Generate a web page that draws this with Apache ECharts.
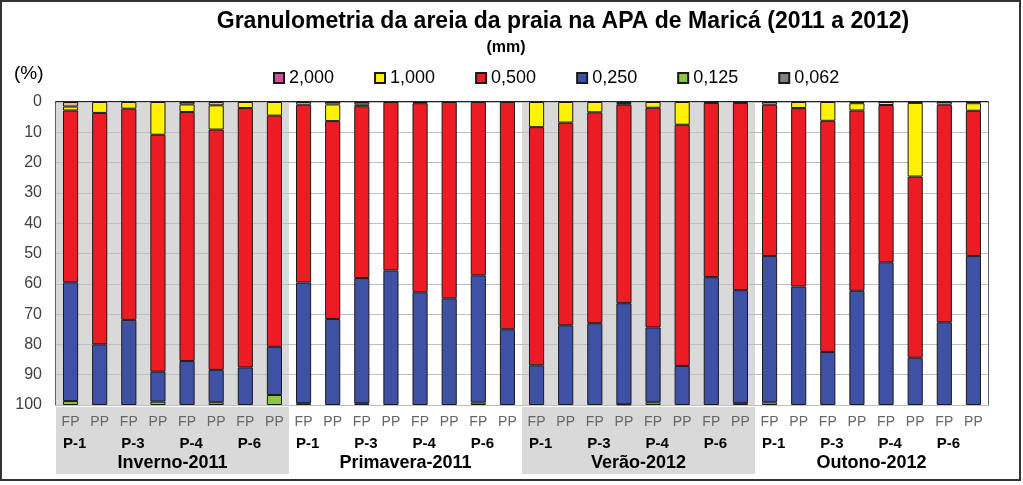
<!DOCTYPE html>
<html>
<head>
<meta charset="utf-8">
<script src="https://cdn.jsdelivr.net/npm/echarts@6/dist/echarts.min.js"></script>
<style>
  html, body { margin: 0; padding: 0; background: #fff; }
  #chart { width: 1023px; height: 485px; }
</style>
</head>
<body>
<div id="chart"></div>
<script>
// categories
const seasons = ['Inverno-2011', 'Primavera-2011', 'Verão-2012', 'Outono-2012'];
const sites = ['P-1', 'P-3', 'P-4', 'P-6'];
const sides = ['FP', 'PP'];

// sediment fractions (%), one value per bar, stacked from the top
const s2000 = [1.5, 0, 0, 0, 0.8, 1.1, 0, 0,   0, 0.8, 0.8, 0, 0.4, 0, 0, 0,   0, 0, 0, 0.3, 0, 0, 0.3, 0.3,   0.9, 0, 0, 0.4, 0, 0.3, 0.9, 0.4];
const s1000 = [1.3, 3.6, 2.2, 10.8, 2.5, 8.0, 2.0, 4.5,   0.9, 5.5, 0.6, 0, 0, 0, 0, 0,   8.3, 6.8, 3.4, 0.6, 1.9, 7.5, 0, 0,   0, 2.0, 6.2, 2.4, 1.0, 24.3, 0, 2.5];
const s0500 = [56.7, 76.4, 69.7, 78.2, 82.2, 79.3, 85.6, 76.3,   58.7, 65.3, 56.7, 55.6, 62.4, 64.8, 57.2, 75.0,   78.6, 66.9, 69.6, 65.5, 72.5, 79.6, 57.5, 61.8,   49.9, 58.9, 76.3, 59.5, 51.9, 59.8, 71.8, 47.9];
const s0250 = [39.2, 20.0, 28.1, 9.9, 14.5, 10.7, 12.4, 15.9,   39.8, 28.4, 41.3, 44.4, 37.2, 35.2, 42.0, 25.0,   13.1, 26.3, 27.0, 33.4, 24.7, 12.9, 42.2, 37.3,   48.3, 39.1, 17.5, 37.7, 47.1, 15.6, 27.3, 49.2];
const s0125 = [1.3, 0, 0, 1.1, 0, 0.9, 0, 3.3,   0.6, 0, 0.6, 0, 0, 0, 0.8, 0,   0, 0, 0, 0.2, 0.9, 0, 0, 0.6,   0.9, 0, 0, 0, 0, 0, 0, 0];
const s0062 = [0, 0, 0, 0, 0, 0, 0, 0,   0, 0, 0, 0, 0, 0, 0, 0,   0, 0, 0, 0, 0, 0, 0, 0,   0, 0, 0, 0, 0, 0, 0, 0];

const sideLabels = [];
const siteLabels = [];
seasons.forEach(function () {
    sites.forEach(function (site) {
        sides.forEach(function (side) {
            sideLabels.push(side);
            siteLabels.push(side === 'FP' ? site : '');
        });
    });
});

const narrow = "'Liberation Sans Narrow', 'Liberation Sans', Arial, sans-serif";
const sans = "'Liberation Sans', Arial, sans-serif";
// season bands: grey, white, grey, white (+ trailing partial band kept white)
const bandColors = ['#D9D9D9', '#FFFFFF', '#D9D9D9', '#FFFFFF', '#FFFFFF'];

function clean(arr) {
    return arr.map(function (v) { return v > 0 ? v : '-'; });
}

function makeSeries(name, data, color) {
    return {
        name: name,
        type: 'bar',
        stack: 'total',
        barWidth: '52%',
        z: 3,
        data: clean(data),
        itemStyle: {
            color: color,
            borderColor: '#1a1a1a',
            borderWidth: 1
        },
        emphasis: { disabled: true }
    };
}

const chart = echarts.init(document.getElementById('chart'), null, { renderer: 'canvas' });

const options = {
    animation: false,
    backgroundColor: '#fff',
    grid: [{
        left: 56,
        right: 35,
        top: 102,
        bottom: 80,
        show: true,
        borderColor: '#000',
        borderWidth: 1.2,
        backgroundColor: 'transparent'
    }, {
        left: 56,
        right: 35,
        top: 407,
        bottom: 11
    }],
    legend: {
        top: 64,
        left: 268,
        itemWidth: 10,
        itemHeight: 10,
        itemGap: 40,
        icon: 'rect',
        textStyle: { fontSize: 18, fontFamily: narrow, color: '#000' },
        data: [
            { name: '2,000', itemStyle: { color: '#D84C9C' } },
            '1,000', '0,500', '0,250', '0,125', '0,062'
        ]
    },
    xAxis: [{
        type: 'category',
        gridIndex: 0,
        data: sideLabels,
        position: 'bottom',
        z: 1,
        axisLine: { show: true, lineStyle: { color: '#000', width: 1.5 } },
        axisTick: { show: false },
        axisLabel: { interval: 0, color: '#666', fontSize: 14, fontFamily: sans, margin: 10 },
        splitLine: { show: false },
        splitArea: {
            show: true,
            interval: 7,
            areaStyle: { color: bandColors }
        }
    }, {
        type: 'category',
        gridIndex: 0,
        data: siteLabels,
        position: 'bottom',
        z: 1,
        axisLine: { show: false },
        axisTick: { show: false },
        axisLabel: { interval: 0, color: '#000', fontSize: 15, fontWeight: 'bold', fontFamily: sans, margin: 31, padding: [0, 0, 0, 8] },
        splitLine: { show: false }
    }, {
        type: 'category',
        gridIndex: 0,
        data: seasons,
        position: 'bottom',
        z: 1,
        axisLine: { show: false },
        axisTick: { show: false },
        axisLabel: { interval: 0, color: '#000', fontSize: 18, fontWeight: 'bold', fontFamily: sans, margin: 49 },
        splitLine: { show: false }
    }, {
        type: 'category',
        gridIndex: 1,
        data: sideLabels,
        z: 0,
        axisLine: { show: false },
        axisTick: { show: false },
        axisLabel: { show: false },
        splitLine: { show: false },
        splitArea: {
            show: true,
            interval: 7,
            areaStyle: { color: bandColors }
        }
    }],
    yAxis: [{
        type: 'value',
        gridIndex: 0,
        inverse: true,
        min: 0,
        max: 100,
        interval: 10,
        z: 2,
        axisLine: { show: false },
        axisTick: { show: false },
        axisLabel: { color: '#404040', fontSize: 16, fontFamily: sans, margin: 14 },
        splitLine: { show: true, lineStyle: { color: '#BFBFBF', width: 1 } }
    }, {
        type: 'value',
        gridIndex: 1,
        show: false,
        splitLine: { show: false }
    }],
    series: [
        makeSeries('2,000', s2000, '#E9B48E'),
        makeSeries('1,000', s1000, '#FFF200'),
        makeSeries('0,500', s0500, '#ED1C24'),
        makeSeries('0,250', s0250, '#3F51A5'),
        makeSeries('0,125', s0125, '#8DC63F'),
        makeSeries('0,062', s0062, '#808080')
    ],
    graphic: [{
        type: 'text',
        x: 563,
        y: 10,
        style: {
            text: 'Granulometria da areia da praia na APA de Maricá (2011 a 2012)',
            font: 'bold 23px ' + narrow,
            fill: '#000',
            textAlign: 'center'
        }
    }, {
        type: 'text',
        x: 506,
        y: 40,
        style: { text: '(mm)', font: 'bold 16px ' + narrow, fill: '#000', textAlign: 'center' }
    }, {
        type: 'text',
        x: 14,
        y: 64,
        style: { text: '(%)', font: '19px ' + narrow, fill: '#000' }
    }, {
        type: 'rect',
        shape: { x: 1, y: 1, width: 1019, height: 479 },
        style: { fill: 'none', stroke: '#333', lineWidth: 2 },
        silent: true
    }]
};

chart.setOption(options);
</script>
</body>
</html>
